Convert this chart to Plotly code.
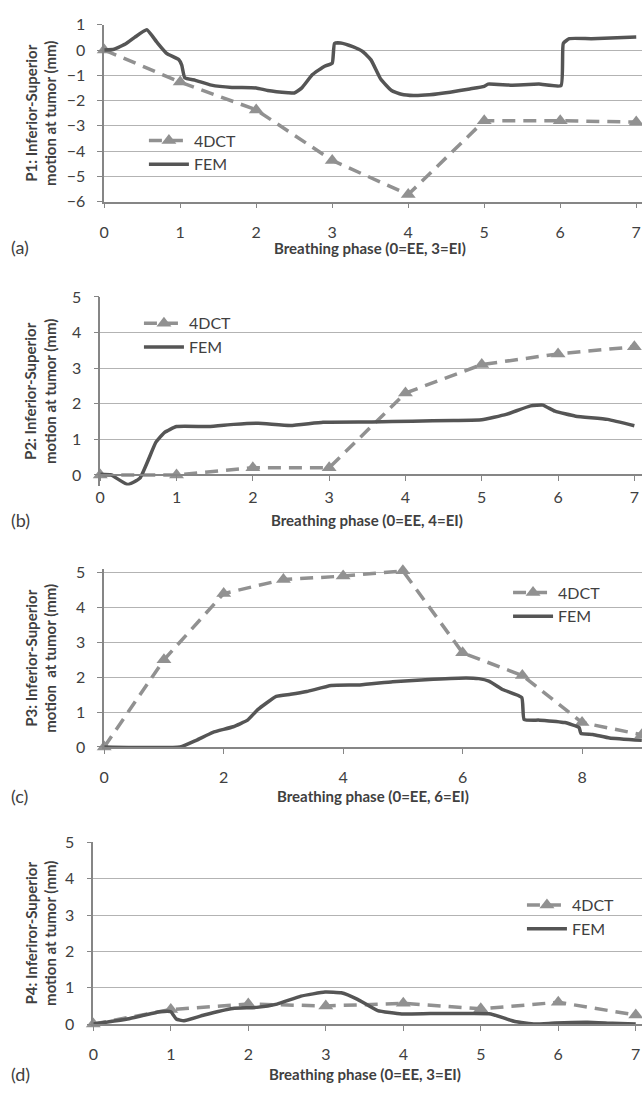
import plotly.graph_objects as go

W, H = 642, 1095

# ---------------- data ----------------
a_ct_x = [0, 1, 2, 3, 4, 5, 6, 7]
a_ct_y = [0, -1.27, -2.37, -4.37, -5.72, -2.8, -2.8, -2.85]
a_fem_x = [0, 0.13, 0.29, 0.4, 0.56, 0.69, 0.82, 0.98, 1.02, 1.06, 1.2, 1.41, 1.68, 2.0, 2.15,
           2.42, 2.5, 2.6, 2.74, 2.9, 3.0, 3.03, 3.11, 3.27, 3.4, 3.51, 3.64, 3.78, 3.91, 4.07,
           4.28, 4.55, 4.81, 5.0, 5.05, 5.35, 5.72, 6.01, 6.04, 6.12, 6.41, 7.0]
a_fem_y = [0, 0.03, 0.26, 0.5, 0.8, 0.32, -0.13, -0.38, -0.6, -1.1, -1.2, -1.39, -1.48, -1.5, -1.6,
           -1.69, -1.7, -1.5, -0.97, -0.64, -0.52, 0.26, 0.28, 0.13, -0.06, -0.39, -1.16, -1.6, -1.75, -1.8,
           -1.77, -1.67, -1.54, -1.44, -1.35, -1.39, -1.35, -1.41, 0.26, 0.45, 0.45, 0.51]

b_ct_x = [0, 1, 2, 3, 4, 5, 6, 7]
b_ct_y = [0, 0, 0.2, 0.2, 2.3, 3.1, 3.4, 3.6]
b_fem_x = [0, 0.14, 0.36, 0.52, 0.73, 0.84, 1.0, 1.42, 1.75, 2.07, 2.49, 2.92, 3.56, 4.09, 4.63,
           5.0, 5.32, 5.64, 5.8, 5.96, 6.23, 6.65, 7.0]
b_fem_y = [0.02, 0, -0.27, -0.09, 0.92, 1.19, 1.36, 1.36, 1.42, 1.45, 1.39, 1.48, 1.49, 1.51, 1.53,
           1.55, 1.7, 1.94, 1.96, 1.79, 1.65, 1.56, 1.38]

c_ct_x = [0, 1, 2, 3, 4, 5, 6, 7, 8, 9]
c_ct_y = [0, 2.5, 4.4, 4.8, 4.9, 5.05, 2.7, 2.05, 0.7, 0.35]
c_fem_x = [0, 1.27, 1.54, 1.82, 2.16, 2.4, 2.57, 2.88, 3.12, 3.39, 3.8, 4.28, 4.83, 5.51, 6.06,
           6.27, 6.44, 6.68, 6.99, 7.03, 7.29, 7.71, 7.95, 7.98, 8.18, 8.46, 9.0]
c_fem_y = [0, 0, 0.19, 0.42, 0.58, 0.77, 1.07, 1.45, 1.51, 1.59, 1.76, 1.78, 1.87, 1.94, 1.98,
           1.96, 1.89, 1.64, 1.42, 0.79, 0.77, 0.7, 0.56, 0.39, 0.36, 0.26, 0.19]

d_ct_x = [0, 1, 2, 3, 4, 5, 6, 7]
d_ct_y = [0, 0.4, 0.55, 0.5, 0.57, 0.42, 0.6, 0.25]
d_fem_x = [0, 0.44, 0.86, 1.0, 1.07, 1.17, 1.43, 1.8, 2.11, 2.37, 2.68, 2.99, 3.2, 3.41, 3.67,
           3.98, 4.35, 4.87, 5.13, 5.44, 5.7, 5.96, 6.38, 6.7, 7.0]
d_fem_y = [0, 0.14, 0.34, 0.34, 0.14, 0.09, 0.25, 0.43, 0.46, 0.55, 0.77, 0.88, 0.86, 0.68, 0.37,
           0.28, 0.29, 0.29, 0.28, 0.07, 0, 0.03, 0.05, 0.02, 0]

panel_letters = ["(a)", "(b)", "(c)", "(d)"]
y_titles = [
    "P1: Inferior-Superior<br>motion at tumor (mm)",
    "P2: Inferior-Superior<br>motion at tumor (mm)",
    "P3: Inferior-Superior<br>motion  at tumor (mm)",
    "P4: Inferiror-Superior<br>motion at tumor (mm)",
]
x_titles = [
    "Breathing phase (0=EE, 3=EI)",
    "Breathing phase (0=EE, 4=EI)",
    "Breathing phase (0=EE, 6=EI)",
    "Breathing phase (0=EE, 3=EI)",
]
y_ticks = [list(range(-6, 2)), list(range(0, 6)), list(range(0, 6)), list(range(0, 6))]
x_ticks = [list(range(0, 8)), list(range(0, 8)), [0, 2, 4, 6, 8], list(range(0, 8))]

# ---------------- layout geometry (pixels) ----------------
panels = [
    dict(x0=100, xu=76.6, top=15, bot=195, yr=[-6, 1], xt=x_ticks[0], xmid=3.5, cross=None, so=10),
    dict(x0=96, xu=76.9, top=292, bot=484, yr=[-0.3, 5], xt=x_ticks[1], xmid=3.5, cross=0, so=3),
    dict(x0=100, xu=60.2, top=569, bot=750, yr=[0, 5.1], xt=x_ticks[2], xmid=4.5, cross=None, so=10),
    dict(x0=89, xu=78.1, top=847, bot=1032, yr=[0, 5], xt=x_ticks[3], xmid=3.5, cross=None, so=10),
]
legend_pos = [(140, 145), (135, 331), (507, 605), (521, 923)]  # left px, centre y px
label_y = [241, 519, 800, 1083]
xtitle_y = [242, 519, 800, 1083]

CT_COLOR = "#919191"
FEM_COLOR = "#555555"
TXT = "#404040"
GRID = "#b3b3b3"
AX = "#868686"
FONT = "Lato, Open Sans, sans-serif"

datasets = [
    (a_ct_x, a_ct_y, a_fem_x, a_fem_y),
    (b_ct_x, b_ct_y, b_fem_x, b_fem_y),
    (c_ct_x, c_ct_y, c_fem_x, c_fem_y),
    (d_ct_x, d_ct_y, d_fem_x, d_fem_y),
]

fig = go.Figure()
layout = dict(
    width=W, height=H, margin=dict(l=0, r=0, t=0, b=0),
    paper_bgcolor="white", plot_bgcolor="white",
    font=dict(family=FONT, color=TXT, size=14),
    annotations=[],
)

for i, (p, (cx, cy, fx, fy)) in enumerate(zip(panels, datasets)):
    n = "" if i == 0 else str(i + 1)
    xa, ya = "x" + n, "y" + n
    lg = "legend" + n
    fig.add_trace(go.Scatter(
        x=cx, y=cy, name="4DCT", mode="lines+markers", xaxis=xa, yaxis=ya, legend=lg,
        line=dict(color=CT_COLOR, width=3.5, dash="13px,8px"),
        marker=dict(symbol="triangle-up", size=13, color=CT_COLOR),
        cliponaxis=False,
    ))
    fig.add_trace(go.Scatter(
        x=fx, y=fy, name="FEM", mode="lines", xaxis=xa, yaxis=ya, legend=lg,
        line=dict(color=FEM_COLOR, width=3.5, shape="spline", smoothing=0.4),
    ))
    xmax = (W - p["x0"]) / p["xu"]
    xdict = dict(
        domain=[p["x0"] / W, 1.0], range=[0, xmax], anchor=ya,
        tickvals=p["xt"], ticks="outside", ticklen=5, tickcolor=AX,
        showline=True, linecolor=AX, linewidth=1.5, showgrid=False, zeroline=False,
        tickfont=dict(size=16, color=TXT), ticklabelstandoff=p["so"], ticklabeloverflow="allow",
    )
    if p["cross"] is not None:
        y0px = p["bot"] - (p["cross"] - p["yr"][0]) / (p["yr"][1] - p["yr"][0]) * (p["bot"] - p["top"])
        xdict.update(anchor="free", position=1 - y0px / H)
    ydict = dict(
        domain=[1 - p["bot"] / H, 1 - p["top"] / H], range=p["yr"], anchor=xa,
        tickvals=y_ticks[i], ticks="outside", ticklen=5, tickcolor=AX,
        showline=True, linecolor=AX, linewidth=1.5,
        showgrid=True, gridcolor=GRID, gridwidth=1.2, zeroline=False,
        tickfont=dict(size=16, color=TXT), ticklabelstandoff=9,
    )
    layout["xaxis" + n] = xdict
    layout["yaxis" + n] = ydict
    lx, ly = legend_pos[i]
    layout[lg] = dict(
        x=lx / W, y=1 - ly / H, xanchor="left", yanchor="middle",
        bgcolor="rgba(0,0,0,0)", font=dict(size=16, color=TXT),
        itemwidth=40, tracegroupgap=0,
    )
    mid = (p["top"] + p["bot"]) / 2
    layout["annotations"].append(dict(
        text="<b>" + y_titles[i] + "</b>", x=36 / W, y=1 - mid / H,
        xref="paper", yref="paper", textangle=-90, showarrow=False,
        font=dict(size=15, color=TXT), xanchor="center", yanchor="middle",
    ))
    xc = p["x0"] + p["xmid"] * p["xu"]
    layout["annotations"].append(dict(
        text="<b>" + x_titles[i] + "</b>", x=xc / W, y=1 - xtitle_y[i] / H,
        xref="paper", yref="paper", showarrow=False,
        font=dict(size=15, color=TXT), xanchor="center", yanchor="middle",
    ))
    layout["annotations"].append(dict(
        text=panel_letters[i], x=4 / W, y=1 - label_y[i] / H,
        xref="paper", yref="paper", showarrow=False,
        font=dict(size=18, color=TXT), xanchor="left", yanchor="middle",
    ))

fig.update_layout(**layout)
fig.write_html("out.html", config={"displayModeBar": False},
               post_script="document.body.style.margin='0';")
